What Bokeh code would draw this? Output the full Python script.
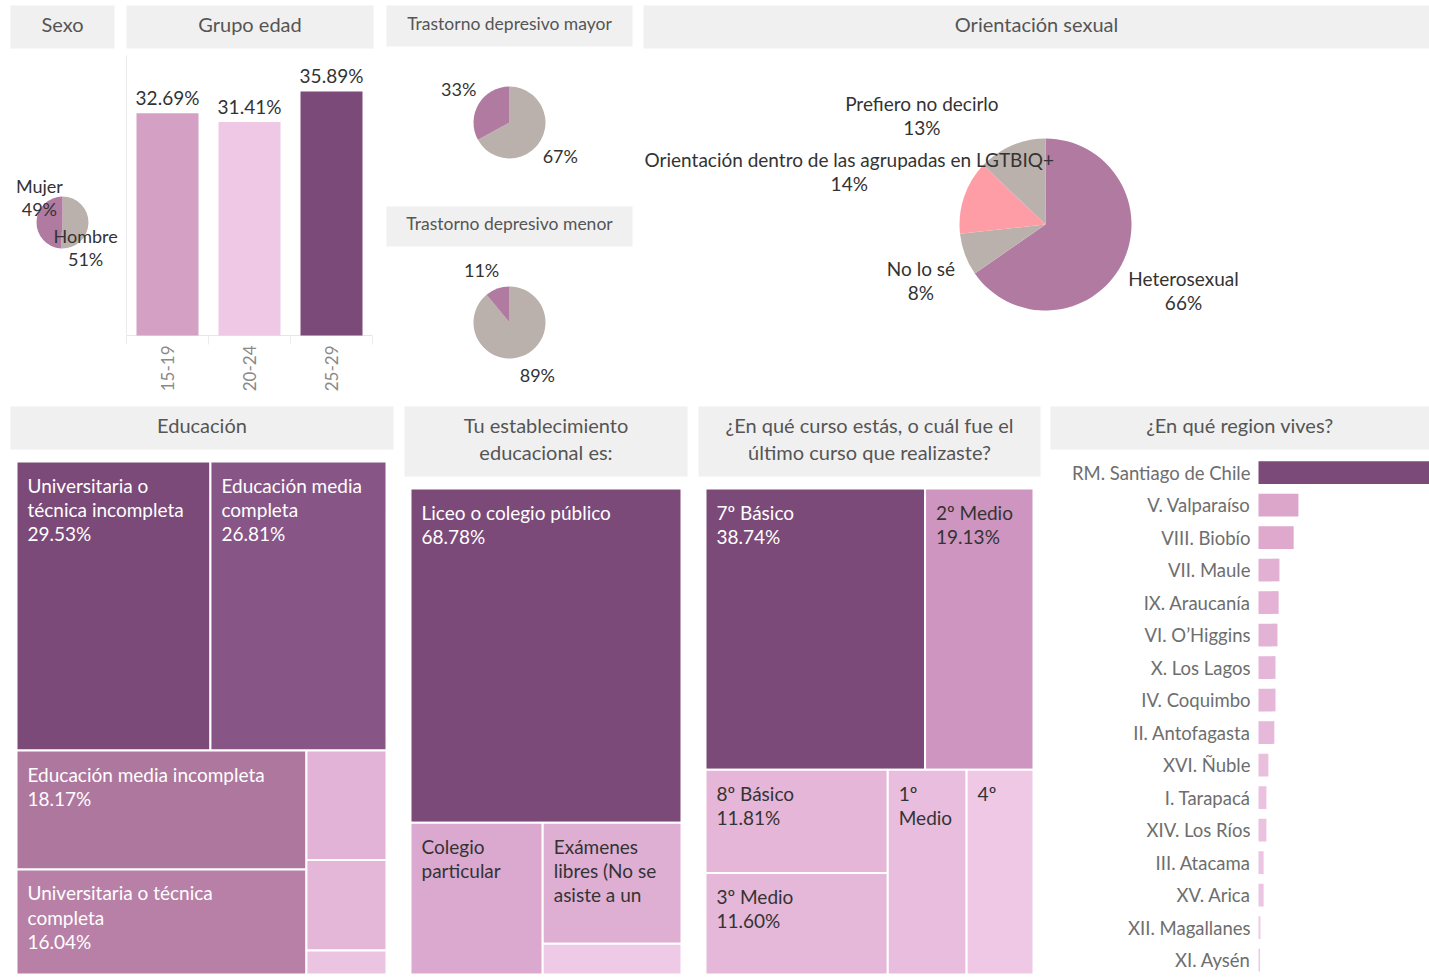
import math
from bokeh.plotting import figure
from bokeh.layouts import row, column
from bokeh.models import Range1d
from bokeh.embed import file_html
from bokeh.resources import INLINE
from bokeh.core.properties import value

FONT = "Lato"
DARK = "#333333"

# ---------------- data ----------------
SEXO = ["Hombre", "Mujer"]
SEXO_PCT = [51, 49]

EDAD = ["15-19", "20-24", "25-29"]
EDAD_PCT = [32.69, 31.41, 35.89]

TDM_MAYOR = ["No", "Sí"]
TDM_MAYOR_PCT = [67, 33]
TDM_MENOR = ["No", "Sí"]
TDM_MENOR_PCT = [89, 11]

ORIENT = ["Heterosexual", "No lo sé",
          "Orientación dentro de las agrupadas en LGTBIQ+", "Prefiero no decirlo"]
ORIENT_PCT = [66, 8, 14, 13]

EDU = ["Universitaria o técnica incompleta", "Educación media completa",
       "Educación media incompleta", "Universitaria o técnica completa",
       "Educación básica completa", "Educación básica incompleta", "Postgrado"]
EDU_PCT = [29.53, 26.81, 18.17, 16.04, 4.62, 3.82, 1.01]
EDU_WRAP = ["Universitaria o\ntécnica incompleta", "Educación media\ncompleta",
            "Educación media incompleta", "Universitaria o técnica\ncompleta", "", "", ""]
EDU_SHOW_PCT = [True, True, True, True, False, False, False]

EST = ["Liceo o colegio público", "Colegio particular",
       "Exámenes libres (No se asiste a un establecimiento)", "Otro"]
EST_PCT = [68.78, 15.23, 12.75, 3.24]
EST_WRAP = ["Liceo o colegio público", "Colegio\nparticular",
            "Exámenes\nlibres (No se\nasiste a un", ""]
EST_SHOW_PCT = [True, False, False, False]

CURSO = ["7º Básico", "2º Medio", "8º Básico", "3º Medio", "1º Medio", "4º Medio"]
CURSO_PCT = [38.74, 19.13, 11.81, 11.60, 10.13, 8.59]
CURSO_WRAP = ["7º Básico", "2º Medio", "8º Básico", "3º Medio", "1º\nMedio", "4º"]
CURSO_SHOW_PCT = [True, True, True, True, False, False]

REGIONS = ["RM. Santiago de Chile", "V. Valparaíso", "VIII. Biobío", "VII. Maule",
           "IX. Araucanía", "VI. O’Higgins", "X. Los Lagos", "IV. Coquimbo",
           "II. Antofagasta", "XVI. Ñuble", "I. Tarapacá", "XIV. Los Ríos",
           "III. Atacama", "XV. Arica", "XII. Magallanes", "XI. Aysén"]
REGION_PCT = [43.3, 10.1, 8.9, 5.3, 5.1, 4.8, 4.3, 4.3, 4.0, 2.5, 2.0, 2.0,
              1.3, 1.3, 0.5, 0.4]

# ---------------- styles ----------------
PURPLE = "#b07aa1"
GREY = "#bab0ac"
PINK = "#ff9da7"
SEXO_COLORS = [GREY, PURPLE]
TDM_COLORS = [GREY, PURPLE]
ORIENT_COLORS = [PURPLE, GREY, PINK, GREY]
EDAD_COLORS = ["#d4a0c3", "#efc8e5", "#7b4a78"]
EDU_COLORS = ["#7b4a78", "#875687", "#ae779e", "#b880a7", "#e2b3d6", "#e4b6d8", "#ebc4e2"]
EDU_TEXT = ["white"] * 4 + [DARK] * 3
EST_COLORS = ["#7b4a78", "#dba9cf", "#dfafd3", "#eecae6"]
EST_TEXT = ["white", DARK, DARK, DARK]
CURSO_COLORS = ["#7b4a78", "#cd95bf", "#e5b6d8", "#e5b7d9", "#e8bddd", "#eec8e5"]
CURSO_TEXT = ["white"] + [DARK] * 5
REGION_COLORS = ["#7b4a78", "#dca5ca", "#dea9cc", "#e2b0d3", "#e3b2d4", "#e3b3d5",
                 "#e5b6d7", "#e5b6d7", "#e6b8d9", "#e9bfdd", "#eac1df", "#eac1df",
                 "#ecc5e1", "#ecc5e1", "#eecae5", "#eecae5"]


def base_fig(width, height, x_range, y_range):
    p = figure(width=width, height=height, toolbar_location=None, output_backend="svg",
               x_range=x_range, y_range=y_range, x_axis_type=None, y_axis_type=None,
               min_border=0, border_fill_color="white", background_fill_color="white",
               outline_line_color=None)
    p.grid.visible = False
    return p


def header(width, height, text, box, size="20px"):
    l, t, r, b = box
    p = base_fig(width, height, Range1d(0, width), Range1d(height, 0))
    p.quad(left=[l], right=[r], top=[t], bottom=[b], fill_color="#f0f0f0", line_color=None)
    p.text(x=[(l + r) / 2], y=[(t + b) / 2], text=[text], text_align="center",
           text_baseline="middle", y_offset=-3, text_font=value(FONT),
           text_font_size=size, text_color="#555555", text_line_height=1.12)
    return p


def pie(width, height, cx, cy, r, vals, colors, texts, mode="corner", k=1.3, rot=0.0,
        pad=8, font_px=18):
    p = base_fig(width, height, Range1d(-cx, width - cx), Range1d(cy - height, cy))
    total = float(sum(vals))
    cum = 0.0
    starts, ends, mids = [], [], []
    for v in vals:
        a0 = math.pi / 2 - 2 * math.pi * cum / total
        cum += v
        a1 = math.pi / 2 - 2 * math.pi * cum / total
        starts.append(a0)
        ends.append(a1)
        mids.append((a0 + a1) / 2)
    p.wedge(x=0, y=0, radius=r, start_angle=starts, end_angle=ends, direction="clock",
            fill_color=colors, line_color=None)
    xs, ys = [], []
    for t, m in zip(texts, mids):
        lines = t.split("\n")
        hw = max(len(s) for s in lines) * 0.48 * font_px / 2
        hh = len(lines) * font_px * 1.2 / 2
        c, s = math.cos(m), math.sin(m)
        if mode == "corner":
            dx = hw if c > 0.2 else (-hw if c < -0.2 else hw * c / 0.2)
            dy = hh if s > 0.2 else (-hh if s < -0.2 else hh * s / 0.2)
            lx = (r + pad) * c + dx
            ly = (r + pad) * s + dy
        else:
            a = m + rot
            lx = k * r * math.cos(a)
            ly = k * r * math.sin(a)
        lx = min(max(lx, -cx + hw + 2), width - cx - hw - 2)
        xs.append(lx)
        ys.append(ly)
    p.text(x=xs, y=ys, text=texts, text_align="center", text_baseline="middle",
           text_font=value(FONT), text_font_size=f"{font_px}px", text_color=DARK,
           text_line_height=1.04)
    return p


def treemap_layout(vals, strips):
    total = float(sum(vals))
    rects = []
    n0 = strips[0]
    s0 = sum(vals[:n0])
    h = s0 / total
    x = 0.0
    for v in vals[:n0]:
        w = v / s0
        rects.append((x, 0.0, x + w, h))
        x += w
    rest = total - s0
    x = 0.0
    i = n0
    for n in strips[1:]:
        grp = vals[i:i + n]
        gs = sum(grp)
        w = gs / rest
        y = h
        for v in grp:
            hh = (1 - h) * v / gs
            rects.append((x, y, x + w, y + hh))
            y += hh
        x += w
        i += n
    return rects


def treemap(width, height, area, vals, strips, colors, wraps, show_pct, text_colors):
    l, t, r, b = area
    aw, ah = r - l, b - t
    p = base_fig(width, height, Range1d(-l / aw, 1 + (width - r) / aw),
                 Range1d(1 + (height - b) / ah, -t / ah))
    rects = treemap_layout(vals, strips)
    p.quad(left=[q[0] for q in rects], right=[q[2] for q in rects],
           top=[q[1] for q in rects], bottom=[q[3] for q in rects],
           fill_color=colors, line_color="white", line_width=2)
    labels = []
    for wtxt, v, sp in zip(wraps, vals, show_pct):
        labels.append(f"{wtxt}\n{v:.2f}%" if sp else wtxt)
    p.text(x=[q[0] for q in rects], y=[q[1] for q in rects], text=labels,
           x_offset=11, y_offset=12, text_align="left", text_baseline="top",
           text_font=value(FONT), text_font_size="19px", text_color=text_colors,
           text_line_height=1.05)
    return p


# ---------------- top row ----------------
sexo_panel = column(
    header(120, 50, "Sexo", (10, 5, 114, 48)),
    pie(120, 350, 62, 172, 26, SEXO_PCT, SEXO_COLORS,
        [f"{n}\n{v}%" for n, v in zip(SEXO, SEXO_PCT)], mode="rot", k=1.3,
        rot=-math.pi / 4),
)

# bar chart: 82 px per category, 6.8 px per percent, baseline 285 px from top
BW, BH = 260, 350
PX_CAT, PX_PCT, C0, BASE = 82.0, 6.8, 47.0, 285.0
bars = base_fig(BW, BH, Range1d(-C0 / PX_CAT, (BW - C0) / PX_CAT),
                Range1d(-(BH - BASE) / PX_PCT, BASE / PX_PCT))
xi = list(range(len(EDAD)))
bars.segment(x0=[-0.5], y0=[0], x1=[-0.5], y1=[(BASE - 5) / PX_PCT],
             line_color="#ececec", line_width=1)
bars.segment(x0=[-0.5], y0=[0], x1=[len(EDAD) - 0.5], y1=[0],
             line_color="#e6e6e6", line_width=1)
bars.segment(x0=[i - 0.5 for i in range(len(EDAD) + 1)], y0=[0] * (len(EDAD) + 1),
             x1=[i - 0.5 for i in range(len(EDAD) + 1)],
             y1=[-9 / PX_PCT] * (len(EDAD) + 1), line_color="#ececec", line_width=1)
bars.vbar(x=xi, top=EDAD_PCT, width=62 / PX_CAT, fill_color=EDAD_COLORS, line_color=None)
bars.text(x=xi, y=EDAD_PCT, text=[f"{v:.2f}%" for v in EDAD_PCT], text_align="center",
          text_baseline="bottom", y_offset=-4, text_font=value(FONT),
          text_font_size="19px", text_color=DARK)
bars.text(x=xi, y=[0] * len(EDAD), text=EDAD, angle=math.pi / 2, text_align="right",
          text_baseline="middle", y_offset=10, text_font=value(FONT),
          text_font_size="17px", text_color="#8a8a8a")
edad_panel = column(header(260, 50, "Grupo edad", (6, 5, 253, 48)), bars)

tdm_panel = column(
    header(257, 50, "Trastorno depresivo mayor", (6, 5, 252, 46), size="17.5px"),
    pie(257, 150, 129, 72, 36, TDM_MAYOR_PCT, TDM_COLORS,
        [f"{v}%" for v in TDM_MAYOR_PCT]),
    header(257, 50, "Trastorno depresivo menor", (6, 6, 252, 46), size="17.5px"),
    pie(257, 150, 129, 72, 36, TDM_MENOR_PCT, TDM_COLORS,
        [f"{v}%" for v in TDM_MENOR_PCT]),
)

orient_panel = column(
    header(792, 50, "Orientación sexual", (6, 5, 792, 48)),
    pie(792, 350, 408, 174, 86, ORIENT_PCT, ORIENT_COLORS,
        [f"{n}\n{v}%" for n, v in zip(ORIENT, ORIENT_PCT)], font_px=19),
)

top_row = row(sexo_panel, edad_panel, tdm_panel, orient_panel)

# ---------------- bottom row ----------------
edu_panel = column(
    header(398, 55, "Educación", (10, 6, 393, 49)),
    treemap(398, 521, (16, 6, 386, 519), EDU_PCT, [2, 2, 3], EDU_COLORS, EDU_WRAP,
            EDU_SHOW_PCT, EDU_TEXT),
)

est_panel = column(
    header(294, 82, "Tu establecimiento\neducacional es:", (6, 6, 289, 76)),
    treemap(294, 494, (12, 6, 283, 492), EST_PCT, [1, 1, 2], EST_COLORS, EST_WRAP,
            EST_SHOW_PCT, EST_TEXT),
)

curso_panel = column(
    header(353, 82, "¿En qué curso estás, o cuál fue el\núltimo curso que realizaste?",
           (6, 6, 348, 76)),
    treemap(353, 494, (13, 6, 341, 492), CURSO_PCT, [2, 2, 1, 1], CURSO_COLORS,
            CURSO_WRAP, CURSO_SHOW_PCT, CURSO_TEXT),
)

# region bars: 32.5 px per row, first row centred 17 px from top, bars start 213 px in,
# 3.95 px per percent
RW, RH = 384, 521
ROW_PX, ROW0, X0, PX_R = 32.5, 17.0, 213.0, 3.95
reg = base_fig(RW, RH, Range1d(-X0 / PX_R, (RW - X0) / PX_R),
               Range1d((RH - ROW0) / ROW_PX, -ROW0 / ROW_PX))
ri = list(range(len(REGIONS)))
reg.hbar(y=ri, left=0, right=REGION_PCT, height=0.7, fill_color=REGION_COLORS,
         line_color=None)
reg.text(x=[0] * len(REGIONS), y=ri, text=REGIONS, x_offset=-8, text_align="right",
         text_baseline="middle", text_font=value(FONT), text_font_size="18.5px",
         text_color="#6e6e6e")
region_panel = column(header(384, 55, "¿En qué region vives?", (5, 6, 384, 49)), reg)

bottom_row = row(edu_panel, est_panel, curso_panel, region_panel)

layout = column(top_row, bottom_row)

open("out.html", "w").write(file_html(layout, INLINE))
